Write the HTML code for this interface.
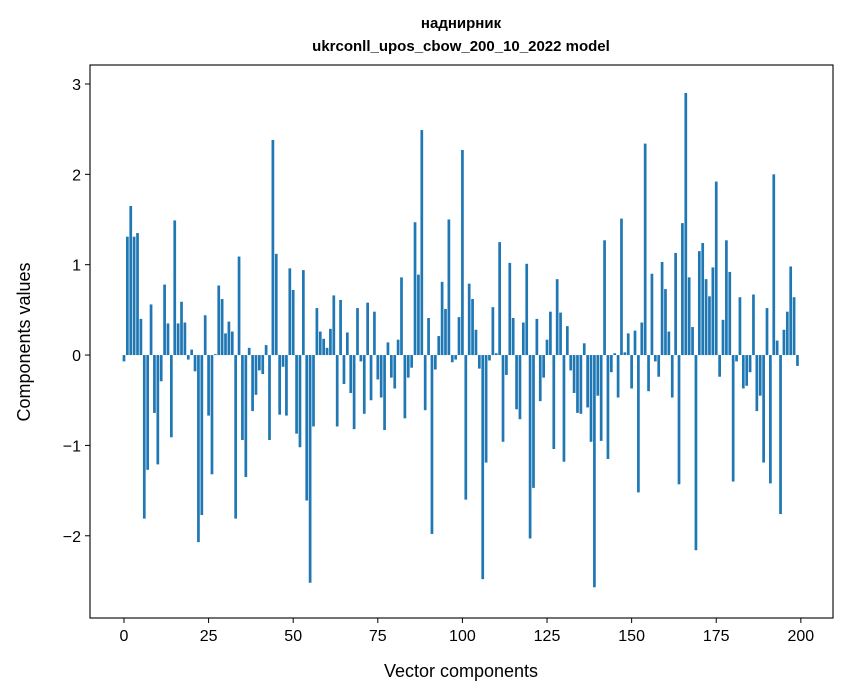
<!DOCTYPE html>
<html><head><meta charset="utf-8"><style>
body{margin:0;background:#fff;}
svg{display:block;font-family:"Liberation Sans","DejaVu Sans",sans-serif;}
</style></head><body>
<svg id="chart" width="847" height="696">
<rect width="847" height="696" fill="#fff"/>
<text x="461" y="28" text-anchor="middle" font-size="15" font-weight="bold">наднирник</text>
<text x="461" y="51" text-anchor="middle" font-size="15" font-weight="bold">ukrconll_upos_cbow_200_10_2022 model</text>
<g id="bars"></g>
<g id="xticks"></g>
<g id="yticks"></g>
<rect x="90" y="65" width="743" height="553" fill="none" stroke="#000" stroke-width="1.1"/>
<text x="461" y="677" text-anchor="middle" font-size="18">Vector components</text>
<text transform="translate(30,342) rotate(-90)" text-anchor="middle" font-size="18">Components values</text>
</svg>
<script>
const values = [
-0.07,1.31,1.65,1.31,1.35,0.40,-1.81,-1.27,0.56,-0.64,
-1.21,-0.29,0.78,0.35,-0.91,1.49,0.35,0.59,0.36,-0.05,
0.06,-0.18,-2.07,-1.77,0.44,-0.67,-1.32,0.01,0.77,0.62,
0.24,0.37,0.26,-1.81,1.09,-0.94,-1.35,0.08,-0.62,-0.44,
-0.17,-0.21,0.11,-0.94,2.38,1.12,-0.66,-0.13,-0.67,0.96,
0.72,-0.87,-1.02,0.94,-1.61,-2.52,-0.79,0.52,0.26,0.18,
0.08,0.29,0.66,-0.79,0.61,-0.32,0.25,-0.42,-0.82,0.52,
-0.07,-0.65,0.58,-0.50,0.48,-0.27,-0.47,-0.83,0.14,-0.25,
-0.37,0.17,0.86,-0.70,-0.25,-0.14,1.47,0.89,2.49,-0.61,
0.41,-1.98,-0.16,0.21,0.81,0.51,1.50,-0.08,-0.05,0.42,
2.27,-1.60,0.79,0.62,0.28,-0.15,-2.48,-1.19,-0.06,0.53,
0.02,1.25,-0.96,-0.22,1.02,0.41,-0.60,-0.71,0.36,1.01,
-2.03,-1.47,0.40,-0.51,-0.25,0.17,0.48,-1.04,0.84,0.47,
-1.18,0.32,-0.17,-0.42,-0.64,-0.65,0.13,-0.58,-0.96,-2.57,
-0.45,-0.95,1.27,-1.15,-0.19,0.02,-0.47,1.51,0.03,0.24,
-0.37,0.27,-1.52,0.36,2.34,-0.40,0.90,-0.07,-0.24,1.03,
0.73,0.26,-0.47,1.13,-1.43,1.46,2.90,0.86,0.31,-2.16,
1.15,1.24,0.84,0.65,0.97,1.92,-0.24,0.39,1.27,0.92,
-1.40,-0.07,0.64,-0.37,-0.34,-0.19,0.67,-0.62,-0.45,-1.19,
0.52,-1.42,2.00,0.16,-1.76,0.28,0.48,0.98,0.64,-0.12
];
const xTicks = [0,25,50,75,100,125,150,175,200];
const yTicks = [-2,-1,0,1,2,3];
const yTickLabels = ["\u22122","\u22121","0","1","2","3"];

const NS="http://www.w3.org/2000/svg";
const X0=90,X1=833,Y0=65,Y1=618;
const xMin=-10.04,xMax=209.5,yMin=-2.91,yMax=3.21;
function xs(v){return X0+(v-xMin)/(xMax-xMin)*(X1-X0);}
function ys(v){return Y1-(v-yMin)/(yMax-yMin)*(Y1-Y0);}
const bars=document.getElementById('bars');
values.forEach((v,i)=>{
  const r=document.createElementNS(NS,'rect');
  const x=xs(i-0.4), w=xs(i+0.4)-x;
  const y=Math.min(ys(v),ys(0)), h=Math.abs(ys(v)-ys(0));
  r.setAttribute('x',x);r.setAttribute('y',y);r.setAttribute('width',w);r.setAttribute('height',h);
  r.setAttribute('fill','#1f77b4');
  
  
  bars.appendChild(r);
});
const xg=document.getElementById('xticks');
xTicks.forEach(t=>{
  const l=document.createElementNS(NS,'line');
  l.setAttribute('x1',xs(t));l.setAttribute('x2',xs(t));l.setAttribute('y1',Y1);l.setAttribute('y2',Y1+5);
  l.setAttribute('stroke','#000');
  
  
  xg.appendChild(l);
  const tx=document.createElementNS(NS,'text');
  tx.setAttribute('x',xs(t));tx.setAttribute('y',Y1+23);tx.setAttribute('text-anchor','middle');tx.setAttribute('font-size','16');
  tx.textContent=t;
  
  
  xg.appendChild(tx);
});
const yg=document.getElementById('yticks');
yTicks.forEach((t,i)=>{
  const l=document.createElementNS(NS,'line');
  l.setAttribute('x1',X0-5);l.setAttribute('x2',X0);l.setAttribute('y1',ys(t));l.setAttribute('y2',ys(t));
  l.setAttribute('stroke','#000');
  
  
  yg.appendChild(l);
  const tx=document.createElementNS(NS,'text');
  tx.setAttribute('x',X0-9);tx.setAttribute('y',ys(t)+6);tx.setAttribute('text-anchor','end');tx.setAttribute('font-size','16');
  tx.textContent=yTickLabels[i];
  
  
  yg.appendChild(tx);
});
</script>
</body></html>
